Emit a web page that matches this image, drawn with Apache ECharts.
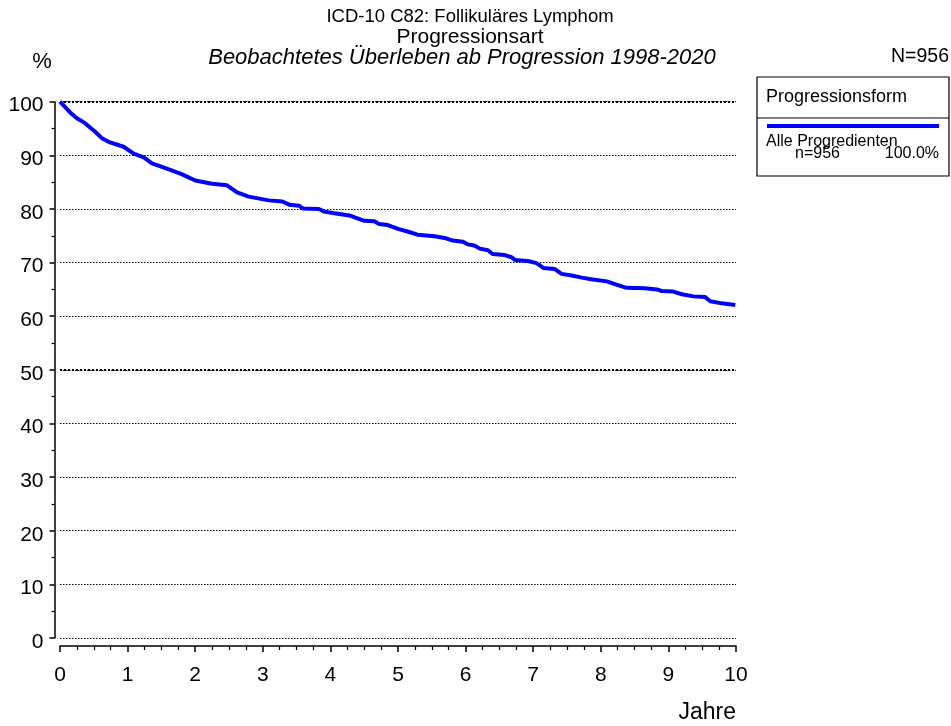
<!DOCTYPE html>
<html>
<head>
<meta charset="utf-8">
<script src="https://cdn.jsdelivr.net/npm/echarts@6/dist/echarts.min.js"></script>
<style>
html,body{margin:0;padding:0;background:#fff;}
#c{width:951px;height:726px;}
</style>
</head>
<body>
<div id="c"></div>
<script>
// ---- data ----
var years = [0,0.15,0.25,0.37,0.52,0.62,0.74,0.94,1.09,1.24,1.36,1.56,1.80,2.0,2.25,2.47,2.62,2.79,3.09,3.29,3.39,3.54,3.59,3.83,3.91,4.06,4.28,4.50,4.65,4.72,4.85,5.0,5.14,5.29,5.54,5.69,5.81,5.96,6.03,6.13,6.21,6.33,6.40,6.58,6.68,6.73,6.92,7.05,7.15,7.32,7.42,7.57,7.72,7.86,8.09,8.23,8.38,8.65,8.83,8.90,9.07,9.20,9.37,9.54,9.62,9.79,9.99];
var survival = [100,98.0,96.9,96.0,94.4,93.2,92.4,91.6,90.3,89.6,88.5,87.6,86.5,85.3,84.7,84.4,83.1,82.3,81.6,81.4,80.8,80.6,80.1,80.0,79.5,79.2,78.8,77.8,77.7,77.2,77.0,76.3,75.8,75.2,74.9,74.6,74.1,73.9,73.4,73.2,72.6,72.3,71.6,71.4,71.0,70.5,70.3,69.9,69.0,68.8,67.9,67.6,67.2,66.9,66.5,65.9,65.3,65.2,65.0,64.7,64.6,64.1,63.7,63.6,62.8,62.4,62.1];
var seriesName = 'Alle Progredienten';
var seriesN = 'n=956';
var seriesPct = '100.0%';
var totalN = 'N=956';
var boldGridValues = [100, 50];
var titleLines = ['ICD-10 C82: Follikuläres Lymphom', 'Progressionsart', 'Beobachtetes Überleben ab Progression 1998-2020'];
var legendTitle = 'Progressionsform';
var xName = 'Jahre';
var yName = '%';

var FONT = '"Liberation Sans", Arial, sans-serif';
var chart = echarts.init(document.getElementById('c'), null, {renderer: 'canvas'});
var pts = years.map(function (x, i) { return [x, survival[i]]; });

function txt(t, x, y, size, opts) {
  opts = opts || {};
  return {type: 'text', x: x, y: y, z: 10, style: {
    text: t, font: (opts.italic ? 'italic ' : '') + size + 'px ' + FONT, fill: '#000',
    verticalAlign: 'middle', align: opts.align || 'left'}};
}

var option = {
  animation: false,
  backgroundColor: '#fff',
  textStyle: {fontFamily: FONT, color: '#000'},
  grid: {left: 60, right: 215, top: 101.7, bottom: 88, containLabel: false},
  xAxis: {
    type: 'value', min: 0, max: 10, interval: 1, offset: 8,
    axisLine: {show: true, onZero: false, lineStyle: {color: '#000', width: 1.5}},
    axisTick: {show: true, length: 6, lineStyle: {color: '#000', width: 1.5}},
    minorTick: {show: true, splitNumber: 4, length: 4, lineStyle: {color: '#000', width: 1.2}},
    axisLabel: {fontFamily: FONT, fontSize: 21, color: '#000', margin: 19},
    splitLine: {show: false}
  },
  yAxis: {
    type: 'value', min: 0, max: 100, interval: 10, offset: 5.5,
    axisLine: {show: true, onZero: false, lineStyle: {color: '#000', width: 1.5}},
    axisTick: {show: true, length: 5, lineStyle: {color: '#000', width: 1.5}},
    minorTick: {show: true, splitNumber: 2, length: 3, lineStyle: {color: '#000', width: 1.2}},
    axisLabel: {fontFamily: FONT, fontSize: 21, color: '#000', margin: 11, verticalAlign: 'top', lineHeight: 8},
    splitLine: {show: true, lineStyle: {color: '#000', width: 1, type: [1.5, 1.5]}}
  },
  series: [{
    name: seriesName,
    type: 'line',
    data: pts,
    showSymbol: false,
    symbol: 'none',
    lineStyle: {color: '#0000ff', width: 4},
    z: 5,
    markLine: {
      silent: true, symbol: 'none', label: {show: false},
      lineStyle: {color: '#000', width: 2, type: [2, 2]},
      data: boldGridValues.map(function (v) { return {yAxis: v}; })
    }
  }],
  graphic: [
    txt(titleLines[0], 470, 17, 18.5, {align: 'center'}),
    txt(titleLines[1], 470, 37, 21, {align: 'center'}),
    txt(titleLines[2], 462, 58, 22, {align: 'center', italic: true}),
    txt(yName, 42, 62, 22, {align: 'center'}),
    txt(totalN, 949, 57, 19.5, {align: 'right'}),
    {type: 'rect', shape: {x: 757, y: 77, width: 192, height: 99},
     style: {fill: '#fff', stroke: '#000', lineWidth: 1.2}},
    {type: 'line', shape: {x1: 757, y1: 118, x2: 949, y2: 118},
     style: {stroke: '#000', lineWidth: 1}},
    txt(legendTitle, 766, 97, 18),
    {type: 'line', shape: {x1: 767, y1: 126, x2: 939, y2: 126},
     style: {stroke: '#0000ff', lineWidth: 4}},
    txt(seriesName, 766, 142, 16),
    txt(seriesN, 795, 154, 16),
    txt(seriesPct, 939, 154, 16, {align: 'right'}),
    txt(xName, 736, 713, 23, {align: 'right'})
  ]
};
chart.setOption(option);
</script>
</body>
</html>
